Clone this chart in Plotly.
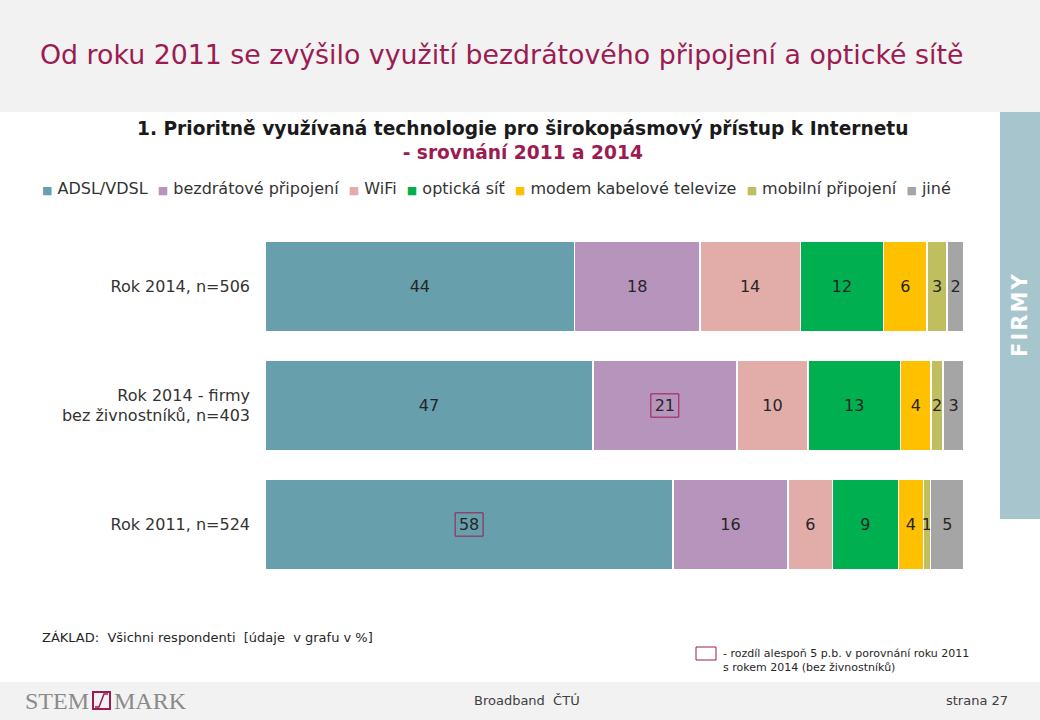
import plotly.graph_objects as go

# ---------------- data ----------------
categories = ["Rok 2014, n=506", "Rok 2014 - firmy<br>bez živnostníků, n=403", "Rok 2011, n=524"]
series_names = ["ADSL/VDSL", "bezdrátové připojení", "WiFi", "optická síť",
                "modem kabelové televize", "mobilní připojení", "jiné"]
adsl = [44.3, 46.9, 58.4]
bezdrat = [17.9, 20.6, 16.4]
wifi = [14.4, 10.2, 6.4]
opticka = [11.9, 13.2, 9.4]
modem = [6.2, 4.4, 3.6]
mobilni = [2.9, 1.7, 1.0]
jine = [2.4, 3.0, 4.8]
series_values = [adsl, bezdrat, wifi, opticka, modem, mobilni, jine]
colors = ["#689fad", "#b794bc", "#e2aca9", "#00b050", "#ffc000", "#bfbf5f", "#a5a5a5"]
# highlighted cells: (series index, category index)
highlights = [(1, 1), (0, 2)]

W, H = 1040, 720
CRIMSON = "#9b1b52"
FONT = "DejaVu Sans"

def px_x(p):
    return p / W

def px_y(p):
    return 1 - p / H

fig = go.Figure()
for name, vals, col in zip(series_names, series_values, colors):
    fig.add_trace(go.Bar(
        y=categories, x=vals, name=name, orientation="h",
        marker=dict(color=col, line=dict(color="white", width=1.5)),
        texttemplate="%{x:.0f}", textposition="inside", insidetextanchor="middle",
        textangle=0, constraintext="none",
        textfont=dict(family=FONT, size=16, color="#262626"),
        hoverinfo="skip", showlegend=False,
    ))

shapes = [
    dict(type="rect", xref="paper", yref="paper", x0=0, x1=1, y0=px_y(112), y1=1,
         fillcolor="#f2f2f2", line=dict(width=0), layer="below"),
    dict(type="rect", xref="paper", yref="paper", x0=0, x1=1, y0=0, y1=px_y(682),
         fillcolor="#f2f2f2", line=dict(width=0), layer="below"),
    dict(type="rect", xref="paper", yref="paper", x0=px_x(1000), x1=1, y0=px_y(519), y1=px_y(112),
         fillcolor="#a6c5cc", line=dict(width=0), layer="below"),
    # footnote legend box
    dict(type="rect", xref="paper", yref="paper", x0=px_x(696), x1=px_x(716), y0=px_y(660), y1=px_y(647),
         fillcolor="rgba(0,0,0,0)", line=dict(color=CRIMSON, width=1)),
    # logo box
    dict(type="rect", xref="paper", yref="paper", x0=px_x(93), x1=px_x(110), y0=px_y(709), y1=px_y(692),
         fillcolor="rgba(0,0,0,0)", line=dict(color=CRIMSON, width=2)),
    dict(type="path", xref="paper", yref="paper",
         path=f"M {px_x(95)},{px_y(707)} L {px_x(99)},{px_y(707)} L {px_x(104)},{px_y(694)} L {px_x(108)},{px_y(694)}",
         line=dict(color=CRIMSON, width=1.5)),
]

# highlight boxes computed from data
for si, ci in highlights:
    start = sum(series_values[k][ci] for k in range(si))
    center = start + series_values[si][ci] / 2
    shapes.append(dict(type="rect", xref="x", yref="y",
                       x0=center - 2.0, x1=center + 2.0, y0=ci - 0.098, y1=ci + 0.098,
                       fillcolor="rgba(0,0,0,0)", line=dict(color=CRIMSON, width=1)))

legend_text = "  ".join(
    f"<span style='color:{c};font-size:11px'>■</span> {n}" for n, c in zip(series_names, colors)
)

annotations = [
    dict(text="Od roku 2011 se zvýšilo využití bezdrátového připojení a optické sítě",
         x=px_x(38), y=px_y(55), xref="paper", yref="paper", xanchor="left", yanchor="middle",
         showarrow=False, font=dict(family=FONT, size=26.8, color=CRIMSON)),
    dict(text="<b>1. Prioritně využívaná technologie pro širokopásmový přístup k Internetu</b><br>"
              f"<b><span style='color:{CRIMSON}'>- srovnání 2011 a 2014</span></b>",
         x=px_x(522), y=px_y(141), xref="paper", yref="paper", xanchor="center", yanchor="middle",
         showarrow=False, font=dict(family=FONT, size=18.6, color="#1a1a1a")),
    dict(text=legend_text, x=px_x(40), y=px_y(189), xref="paper", yref="paper",
         xanchor="left", yanchor="middle", showarrow=False,
         font=dict(family=FONT, size=16, color="#333333")),
    dict(text="F\u200aI\u200aR\u200aM\u200aY", x=px_x(1020), y=px_y(315), xref="paper", yref="paper",
         xanchor="center", yanchor="middle", textangle=-90, showarrow=False,
         font=dict(family=FONT, size=21, color="white", weight="bold")),
    dict(text="ZÁKLAD:  Všichni respondenti  [údaje  v grafu v %]", x=px_x(40), y=px_y(637),
         xref="paper", yref="paper", xanchor="left", yanchor="middle", showarrow=False,
         font=dict(family=FONT, size=13, color="#262626")),
    dict(text="- rozdíl alespoň 5 p.b. v porovnání roku 2011<br>s rokem 2014 (bez živnostníků)",
         x=px_x(721), y=px_y(660), xref="paper", yref="paper", xanchor="left", yanchor="middle",
         align="left", showarrow=False, font=dict(family=FONT, size=11, color="#262626")),
    dict(text="Broadband  ČTÚ", x=px_x(527), y=px_y(700), xref="paper", yref="paper",
         xanchor="center", yanchor="middle", showarrow=False,
         font=dict(family=FONT, size=13, color="#404040")),
    dict(text="strana 27", x=px_x(1010), y=px_y(700), xref="paper", yref="paper",
         xanchor="right", yanchor="middle", showarrow=False,
         font=dict(family=FONT, size=13, color="#404040")),
    dict(text="STEM", x=px_x(91), y=px_y(701), xref="paper", yref="paper",
         xanchor="right", yanchor="middle", showarrow=False,
         font=dict(family="Liberation Serif", size=24, color="#8a8a8a")),
    dict(text="MARK", x=px_x(112), y=px_y(701), xref="paper", yref="paper",
         xanchor="left", yanchor="middle", showarrow=False,
         font=dict(family="Liberation Serif", size=24, color="#8a8a8a")),
]

fig.update_layout(
    width=W, height=H, margin=dict(l=0, r=0, t=0, b=0),
    paper_bgcolor="white", plot_bgcolor="rgba(0,0,0,0)",
    barmode="stack", bargap=0.244,
    uniformtext=dict(minsize=16, mode="show"),
    showlegend=False,
    xaxis=dict(domain=[px_x(265), px_x(964)], range=[0, 100], visible=False, fixedrange=True),
    yaxis=dict(domain=[px_y(584), px_y(227)], categoryorder="array", categoryarray=categories,
               autorange="reversed", showgrid=False, zeroline=False, showline=False,
               ticks="", ticklabelstandoff=14, fixedrange=True,
               tickfont=dict(family=FONT, size=16, color="#333333")),
    shapes=shapes, annotations=annotations,
)

fig.write_html("out.html", config={"displayModeBar": False},
               post_script="document.body.style.margin='0';document.body.style.overflow='hidden';")
